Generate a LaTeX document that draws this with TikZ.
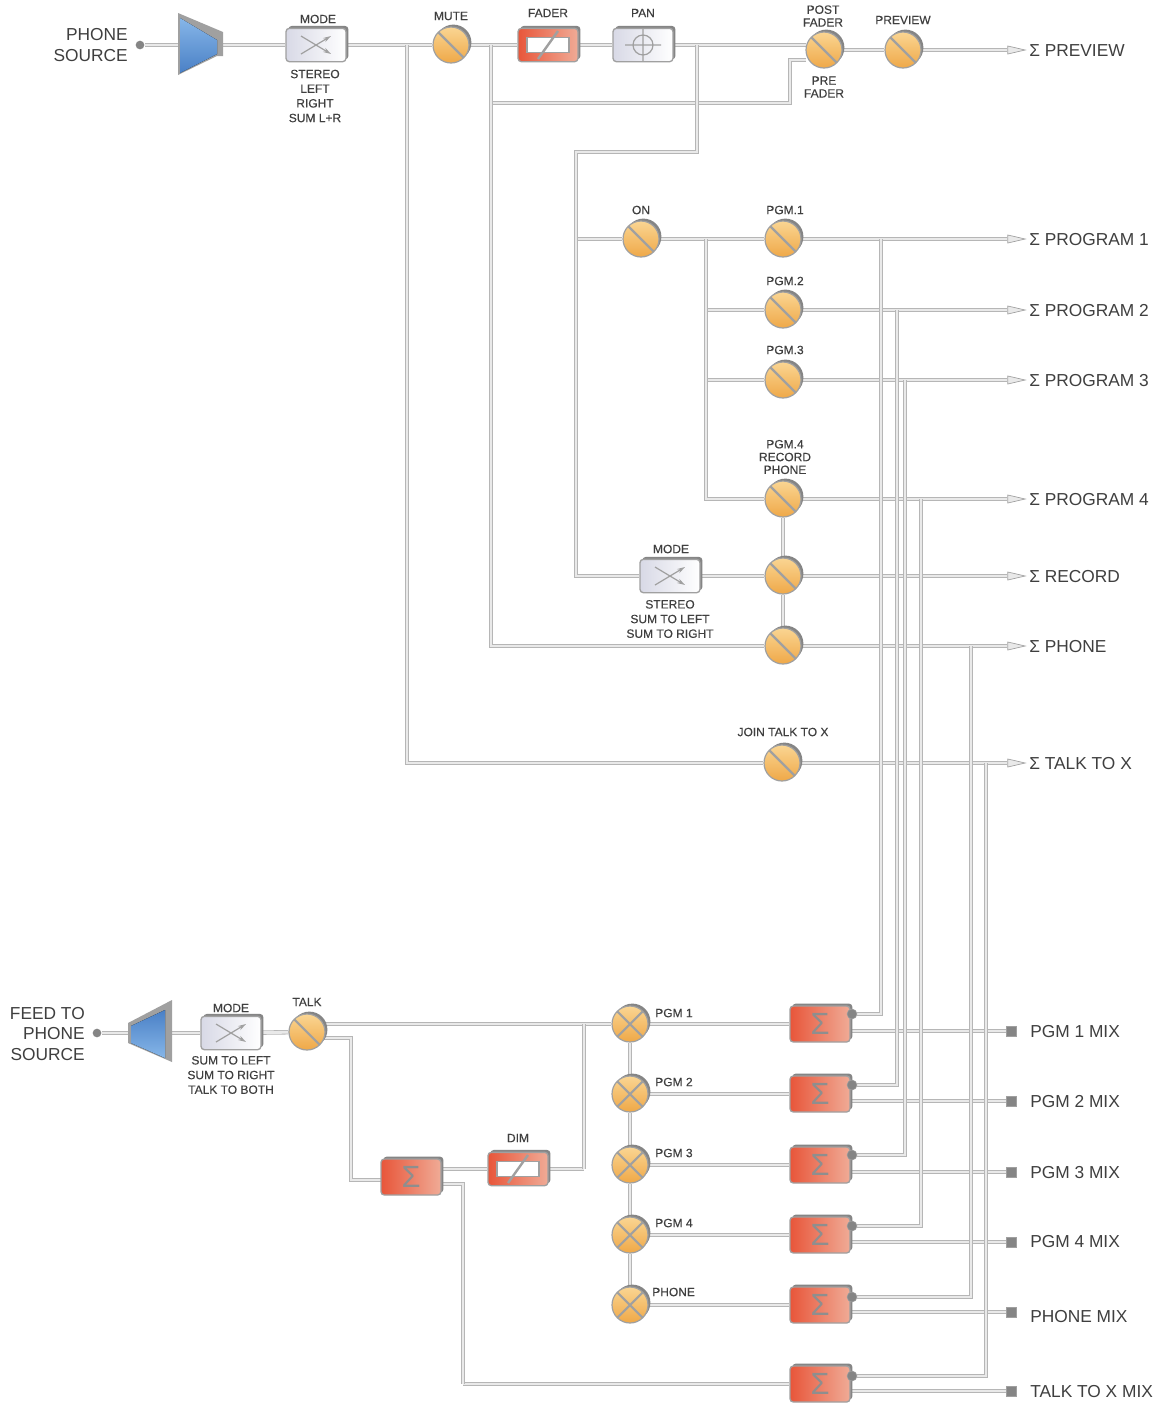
\documentclass[tikz,border=0pt]{standalone}
\usepackage{fontspec}
\setmainfont{Liberation Sans}
\newfontfamily\tagfont[FakeBold=0.3]{Liberation Sans}
\usetikzlibrary{arrows.meta,backgrounds,shadows,shapes.geometric}
\definecolor{mixink}{HTML}{3F3F3F}
\definecolor{pipeEdge}{HTML}{B6B6B6}
\definecolor{pipeCore}{HTML}{E9E9E9}
\definecolor{partEdge}{HTML}{A0A0A0}
\definecolor{partShade}{HTML}{858585}
\definecolor{sumInk}{HTML}{8E8E8E}
\definecolor{knobTop}{HTML}{FAD592}
\definecolor{knobLow}{HTML}{EFA848}
\definecolor{redLeft}{HTML}{E8563A}
\definecolor{redRight}{HTML}{F0AB96}
\definecolor{steelLeft}{HTML}{D8D9E6}
\definecolor{ampLight}{HTML}{86B6E8}
\definecolor{ampDark}{HTML}{4A80C6}

\begin{document}
\begin{tikzpicture}[x=0.75pt,y=-0.75pt,text=mixink,
  font=\tagfont\fontsize{9}{11}\selectfont,
  pipe/.style={draw=pipeEdge,double=pipeCore,line width=0.6pt,double distance=2.1pt},
  sidedrop/.style={drop shadow={shadow xshift=1.8pt,shadow yshift=1.8pt,fill=partShade,opacity=1}},
  knob/.style={circle,minimum size=27pt,inner sep=0pt,draw=partEdge,line width=0.9pt,
    top color=knobTop,bottom color=knobLow,sidedrop},
  switchknob/.style={knob,path picture={
    \draw[partEdge,line width=1.6pt] (path picture bounding box.north west)--(path picture bounding box.south east);}},
  crossknob/.style={knob,path picture={
    \draw[partEdge,line width=1.6pt] (path picture bounding box.north west)--(path picture bounding box.south east)
      (path picture bounding box.north east)--(path picture bounding box.south west);}},
  unitbox/.style={rectangle,rounded corners=2.5pt,minimum width=45pt,minimum height=25pt,inner sep=0pt,
    draw=partEdge,line width=1pt,sidedrop},
  modebox/.style={unitbox,left color=steelLeft,right color=white,path picture={
    \draw[partEdge,line width=0.9pt,-{Stealth[length=6pt,width=3.5pt]},shift={(path picture bounding box.center)}]
      (-15,9)--(15,-9);
    \draw[partEdge,line width=0.9pt,-{Stealth[length=6pt,width=3.5pt]},shift={(path picture bounding box.center)}]
      (-15,-9)--(15,9);}},
  panbox/.style={unitbox,left color=steelLeft,right color=white,path picture={
    \draw[partEdge,line width=0.9pt,shift={(path picture bounding box.center)}]
      (0,0) circle (10) (-18,0)--(18,0) (0,-16)--(0,16);}},
  faderbox/.style={unitbox,left color=redLeft,right color=redRight,path picture={
    \draw[partEdge,fill=white,line width=0.9pt,sharp corners,shift={(path picture bounding box.center)}]
      (-21,-7.5) rectangle (21,7.5);
    \draw[partEdge,line width=1.8pt,sharp corners,shift={(path picture bounding box.center)}]
      (-10,14)--(10,-14);}},
  sumbox/.style={unitbox,minimum height=27pt,left color=redLeft,right color=redRight,text=sumInk,
    font=\fontsize{23}{23}\selectfont},
  ampspot/.style={rectangle,minimum width=33pt,minimum height=46pt,inner sep=0pt},
  jackdot/.style={circle,minimum size=6.5pt,inner sep=0pt,fill=partShade},
  portdot/.style={circle,minimum size=7.5pt,inner sep=0pt,fill=partShade,draw=partEdge},
  outtip/.style={isosceles triangle,isosceles triangle stretches,minimum height=13pt,minimum width=6pt,
    inner sep=0pt,draw=partEdge,fill=pipeCore,line width=0.5pt},
  mixend/.style={rectangle,minimum size=7.5pt,inner sep=0pt,fill=partShade,draw=partEdge,line width=0.4pt},
  tag/.style={align=center,inner sep=0pt},
  biglabel/.style={align=right,inner sep=0pt,font=\rmfamily\fontsize{13}{15.7}\selectfont},
  outlabel/.style={anchor=west,inner sep=0pt,font=\rmfamily\fontsize{13}{15}\selectfont}]
  \useasboundingbox (0,0) rectangle (1157,1404);

  % Channel strip, top row.
  \node[biglabel,anchor=east] (srclabel) at (128,45) {PHONE\\SOURCE};
  \node[jackdot] (srcjack) at (140,45) {};
  \node[ampspot] (srcamp) at (200,45) {};
  \fill[partEdge,shift={(srcamp.center)}] (-22,-32)--(23,-13)--(23,11)--(17,11)--(-22,30)--cycle;
  \fill[top color=ampLight,bottom color=ampDark,shift={(srcamp.center)}] (-20,-27)--(17,-5)--(17,9)--(-20,28)--cycle;
  \node[modebox] (srcmode) at (316,45) {};
  \node[switchknob] (mutesw) at (451,45) {};
  \node[faderbox] (srcfader) at (548,45) {};
  \node[panbox] (srcpan) at (643,45) {};
  \node[switchknob] (postsw) at (824,50) {};
  \node[switchknob] (previewsw) at (903,50) {};

  % Bus switches.
  \node[switchknob] (onsw) at (641,239) {};
  \foreach \v/\y in {pgm1sw/239,pgm2sw/310,pgm3sw/380,pgm4sw/499,recsw/576,phonesw/646}
    {\node[switchknob] (\v) at (783,\y) {};}
  \node[switchknob] (talksw) at (782,763) {};
  \node[modebox] (recmode) at (670,576) {};

  \foreach \n/\y/\t in {preview/50/PREVIEW,pgm1/239/PROGRAM 1,pgm2/310/PROGRAM 2,pgm3/380/PROGRAM 3,
      pgm4/499/PROGRAM 4,rec/576/RECORD,phone/646/PHONE,talk/763/TALK TO X} {
    \node[outtip] (\n out) at (1011,\y) {};
    \node[outlabel] (\n label) at (1029,\y+1) {Σ \t};
  }

  % Feed side, bottom left.
  \node[biglabel,anchor=east] (feedlabel) at (85,1034) {FEED TO\\PHONE\\SOURCE};
  \node[jackdot] (feedjack) at (97,1033) {};
  \node[ampspot] (feedamp) at (150,1033) {};
  \fill[partEdge,shift={(feedamp.center)}] (-22,-10)--(22,-33)--(22,29)--(-22,10)--cycle;
  \fill[top color=ampDark,bottom color=ampLight,shift={(feedamp.center)}] (-19,-7)--(15,-23)--(15,25)--(-19,10)--cycle;
  \node[modebox] (feedmode) at (231,1033) {};
  \node[switchknob] (feedtalk) at (307,1032) {};
  \node[sumbox] (talksum) at (411,1177) {Σ};
  \node[faderbox] (dimbox) at (518,1169) {};

  \foreach \n/\y/\up/\down/\ly/\t in {1/1024/1014/1031/1032/PGM 1 MIX,2/1094/1085/1101/1102/PGM 2 MIX,
      3/1165/1155/1172/1173/PGM 3 MIX,4/1235/1226/1242/1242/PGM 4 MIX,5/1305/1297/1312/1317/PHONE MIX,
      6/1384/1376/1391/1392/TALK TO X MIX} {
    \node[sumbox] (sum\n) at (820,\y) {Σ};
    \node[portdot] (sumport\n) at (852,\up) {};
    \coordinate (sumout\n) at (849,\down);
    \node[mixend] (mixend\n) at (1011,\down) {};
    \node[outlabel] (mixlabel\n) at (1030,\ly) {\t};
  }
  \foreach \n/\y in {1/1024,2/1094,3/1165,4/1235,5/1305}
    {\node[crossknob] (xp\n) at (630,\y) {};}

  % Labels.
  \foreach \v/\x/\y/\t in {modetag/318/19/MODE,mutetag/451/16/MUTE,fadertag/548/13/FADER,pantag/643/13/PAN,
      previewtag/903/20/PREVIEW,ontag/641/210/ON,pgm1tag/785/210/PGM.1,pgm2tag/785/281/PGM.2,
      pgm3tag/785/350/PGM.3,recmodetag/671/549/MODE,jointag/783/732/JOIN TALK TO X,
      talktag/307/1002/TALK,feedmodetag/231/1008/MODE,dimtag/518/1138/DIM}
    {\node[tag] (\v) at (\x,\y) {\t};}
  \node[tag] (posttag) at (823,16) {POST\\[-1.4pt]FADER};
  \node[tag] (pretag) at (824,87) {PRE\\[-1.4pt]FADER};
  \node[tag] (srcmodes) at (315,96) {STEREO\\LEFT\\RIGHT\\SUM L+R};
  \node[tag] (pgm4tag) at (785,457) {PGM.4\\[-1.4pt]RECORD\\[-1.4pt]PHONE};
  \node[tag] (recmodes) at (670,619) {STEREO\\SUM TO LEFT\\SUM TO RIGHT};
  \node[tag] (feedmodes) at (231,1075) {SUM TO LEFT\\SUM TO RIGHT\\TALK TO BOTH};
  \foreach \n/\x/\y/\t in {1/655/1013/PGM 1,2/655/1082/PGM 2,3/655/1153/PGM 3,4/655/1223/PGM 4,5/652/1292/PHONE}
    {\node[tag,anchor=west] (xptag\n) at (\x,\y) {\t};}

  % Bends and tee points of the pipework.
  \foreach \v/\x/\y in {postin/806/45,prein/806/60,prebend/790/103,tee407/407/45,tee491/491/45,
      pretee/491/103,tee697/697/45,bend576/576/152,tee576/576/239,tee706/706/239,tee706b/706/310,
      tee706c/706/380,talkhi/322/1024,talklo/322/1038,bend351/351/1180,sumlo/443/1184,
      bend463/463/1384,dimbend/584/1169,dimtee/584/1024}
    {\coordinate (\v) at (\x,\y);}

  \begin{scope}[on background layer]
    \fill[white] (0,0) rectangle (1157,1404);
    \foreach \u/\v in {srcjack/srcamp,srcamp/srcmode,srcmode/mutesw,mutesw/srcfader,srcfader/srcpan,srcpan/postin,
        postsw/previewsw,previewsw/previewout,onsw/pgm1sw,tee576/onsw,tee706b/pgm2sw,tee706c/pgm3sw,
        pgm4sw/recsw,recsw/phonesw,recmode/recsw,pgm1sw/pgm1out,pgm2sw/pgm2out,pgm3sw/pgm3out,
        pgm4sw/pgm4out,recsw/recout,phonesw/phoneout,talksw/talkout,
        feedjack/feedamp,feedamp/feedmode,feedmode/feedtalk,talkhi/xp1,dimbox/dimbend,dimbend/dimtee,
        xp1/xp2,xp2/xp3,xp3/xp4,xp4/xp5,xp1/sum1,xp2/sum2,xp3/sum3,xp4/sum4,xp5/sum5,bend463/sum6,
        sumout1/mixend1,sumout2/mixend2,sumout3/mixend3,sumout4/mixend4,sumout5/mixend5,sumout6/mixend6}
      {\draw[pipe] (\u)--(\v);}
    \draw[pipe] (prein)-|(prebend)--(pretee);
    \draw[pipe] (tee407)|-(talksw);
    \draw[pipe] (tee491)|-(phonesw);
    \draw[pipe] (tee697)|-(bend576)|-(recmode);
    \draw[pipe] (tee706)|-(pgm4sw);
    \draw[pipe] (talklo)-|(bend351)--(bend351-|talksum);
    \draw[pipe] (dimbox-|talksum)--(dimbox);
    \draw[pipe] (sumlo)-|(bend463);
    % Risers from the bus rows down to the mix summers.
    \foreach \x/\v/\n in {881/pgm1sw/1,897/pgm2sw/2,905/pgm3sw/3,921/pgm4sw/4,971/phonesw/5,986/talksw/6}
      {\draw[pipe] (\x,0 |- \v) -- (\x,0 |- sumport\n) -- (sumport\n);}
  \end{scope}
\end{tikzpicture}
\end{document}
